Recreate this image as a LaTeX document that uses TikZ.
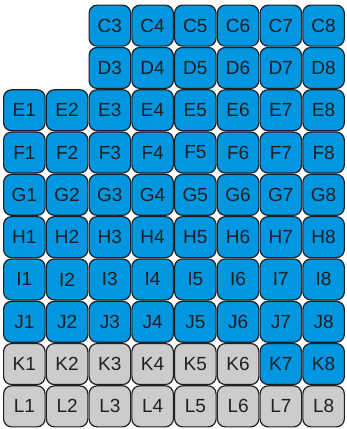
\documentclass[tikz,border=0pt]{standalone}
\usepackage{fontspec}
\setmainfont{Liberation Sans}
\definecolor{cellblue}{RGB}{0,150,224}
\definecolor{cellgray}{RGB}{204,204,204}
\definecolor{cellline}{RGB}{35,31,32}
\begin{document}
\begin{tikzpicture}[x=1pt,y=1pt,
  cell/.style={draw=cellline,line width=1.2pt,rounded corners=8pt,
    minimum width=41.5pt,minimum height=41pt,inner sep=0pt,
    text=cellline,font=\fontsize{19}{19}\selectfont},
  blue/.style={cell,fill=cellblue},
  gray/.style={cell,fill=cellgray}]
  \useasboundingbox (0,0) rectangle (347,429);
  % top rows, columns 3 to 8
  \foreach \r/\n in {C/0,D/1}
    \foreach \c in {3,...,8}
      \node[blue] (\r\c) at (42.75*\c-18.4,403.35-42.3*\n) {\r\c};
  % full blue rows
  \foreach \r/\n in {E/2,F/3,G/4,H/5,I/6,J/7}
    \foreach \c in {1,...,8}
      \node[blue] (\r\c) at (42.75*\c-18.4,403.35-42.3*\n) {\r\c};
  % row K
  \foreach \c in {1,...,6}
    \node[gray] (K\c) at (42.75*\c-18.4,403.35-42.3*8) {K\c};
  \foreach \c in {7,8}
    \node[blue] (K\c) at (42.75*\c-18.4,403.35-42.3*8) {K\c};
  % row L
  \foreach \c in {1,...,8}
    \node[gray] (L\c) at (42.75*\c-18.4,403.35-42.3*9) {L\c};
\end{tikzpicture}
\end{document}
